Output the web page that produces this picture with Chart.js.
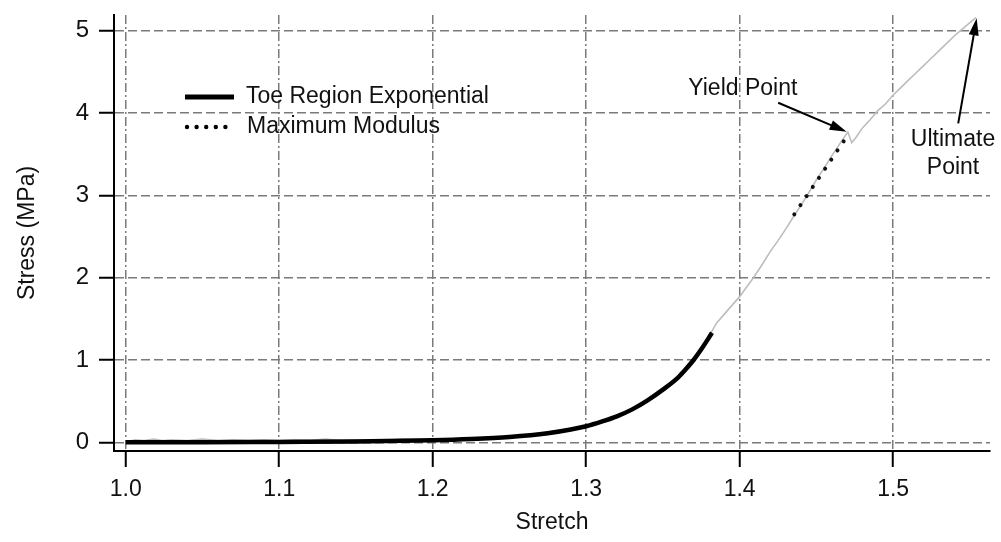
<!DOCTYPE html>
<html>
<head>
<meta charset="utf-8">
<script src="https://cdn.jsdelivr.net/npm/chart.js@4.4.1/dist/chart.umd.min.js"></script>
<style>
  html, body { margin: 0; padding: 0; background: #ffffff; }
  #wrap { width: 1001px; height: 542px; position: relative; }
</style>
</head>
<body>
<div id="wrap"><canvas id="stressChart"></canvas></div>
<script>
const rawStretch = [1.000, 1.006, 1.012, 1.018, 1.024, 1.030, 1.040, 1.050, 1.060, 1.070,
                    1.080, 1.090, 1.100, 1.110, 1.120, 1.130, 1.140, 1.150, 1.160, 1.170,
                    1.180, 1.190, 1.200, 1.210, 1.220, 1.230, 1.240, 1.250, 1.260, 1.270,
                    1.280, 1.290, 1.300, 1.310, 1.320, 1.330, 1.340, 1.350, 1.360, 1.370,
                    1.378, 1.385, 1.392, 1.400, 1.405, 1.409, 1.415, 1.420, 1.425, 1.430,
                    1.435, 1.440, 1.444, 1.450, 1.455, 1.460, 1.465, 1.469, 1.4705, 1.473,
                    1.476, 1.480, 1.485, 1.490, 1.495, 1.500, 1.505, 1.510, 1.515, 1.520,
                    1.525, 1.530, 1.535, 1.540, 1.545, 1.550, 1.554];
const rawStress = [0.00, 0.03, 0.02, 0.04, 0.02, 0.03, 0.02, 0.04, 0.02, 0.03,
                   0.02, 0.03, 0.02, 0.03, 0.02, 0.04, 0.02, 0.03, 0.03, 0.02,
                   0.04, 0.03, 0.03, 0.04, 0.05, 0.05, 0.06, 0.07, 0.09, 0.11,
                   0.14, 0.16, 0.20, 0.25, 0.31, 0.40, 0.51, 0.64, 0.79, 1.00,
                   1.22, 1.45, 1.60, 1.77, 1.90, 2.00, 2.17, 2.32, 2.45, 2.59,
                   2.74, 2.88, 3.00, 3.19, 3.33, 3.48, 3.62, 3.73, 3.77, 3.64,
                   3.71, 3.82, 3.92, 4.03, 4.11, 4.22, 4.31, 4.40, 4.49, 4.58,
                   4.67, 4.76, 4.85, 4.94, 5.02, 5.10, 5.16];

const toeStretch = [1.000, 1.050, 1.100, 1.150, 1.200, 1.225, 1.250, 1.275, 1.290, 1.300,
                    1.310, 1.320, 1.330, 1.340, 1.350, 1.360, 1.365, 1.370, 1.375, 1.382];
const toeStress = [0.00, 0.00, 0.005, 0.01, 0.025, 0.04, 0.065, 0.11, 0.155, 0.195,
                   0.25, 0.315, 0.40, 0.51, 0.64, 0.79, 0.89, 1.00, 1.13, 1.33];

const modulusStretch = [1.4356, 1.4686];
const modulusStress = [2.77, 3.68];

const xTicks = [1.0, 1.1, 1.2, 1.3, 1.4, 1.5];
const yTicks = [0, 1, 2, 3, 4, 5];
const seriesNames = ['Toe Region Exponential', 'Maximum Modulus'];

// anotaciones (coordenadas de datos)
const yieldTip = [1.4697, 3.774];
const yieldTail = [1.4251, 4.126];
const yieldLabel = [1.3665, 4.30];
const ultimateTip = [1.5544, 5.152];
const ultimateTail = [1.5424, 3.876];
const ultimateLabel = [1.539, 3.673];

const FONT = "'Liberation Sans', Arial, Helvetica, sans-serif";
const TEXT = '#111111';

const toPoints = (xs, ys) => xs.map((x, i) => ({ x: x, y: ys[i] }));

function drawArrow(ctx, x1, y1, x2, y2) {
    const ang = Math.atan2(y2 - y1, x2 - x1);
    const c = Math.cos(ang), s = Math.sin(ang);
    const headLen = 17, headW = 5;
    ctx.beginPath();
    ctx.moveTo(x1, y1);
    ctx.lineTo(x2 - headLen * 0.7 * c, y2 - headLen * 0.7 * s);
    ctx.stroke();
    ctx.beginPath();
    ctx.moveTo(x2, y2);
    ctx.lineTo(x2 - headLen * c + headW * s, y2 - headLen * s - headW * c);
    ctx.lineTo(x2 - headLen * c - headW * s, y2 - headLen * s + headW * c);
    ctx.closePath();
    ctx.fill();
}

// Leyenda y flechas dibujadas a mano sobre el lienzo
const overlayPlugin = {
    id: 'overlay',
    afterDraw(chart) {
        const { ctx, scales: { x, y } } = chart;
        const px = p => [x.getPixelForValue(p[0]), y.getPixelForValue(p[1])];
        ctx.save();
        ctx.fillStyle = TEXT;
        ctx.strokeStyle = '#000';
        ctx.font = '23px ' + FONT;
        ctx.textBaseline = 'middle';

        // leyenda
        ctx.lineWidth = 5;
        ctx.beginPath();
        ctx.moveTo(185, 97);
        ctx.lineTo(234, 97);
        ctx.stroke();
        ctx.fillStyle = '#000';
        for (let i = 0; i < 5; i++) {
            ctx.beginPath();
            ctx.arc(187 + i * 9.6, 127, 2.2, 0, Math.PI * 2);
            ctx.fill();
        }
        ctx.fillStyle = TEXT;
        ctx.textAlign = 'left';
        ctx.fillText(seriesNames[0], 246, 97);
        ctx.fillText(seriesNames[1], 247, 127);

        // Yield Point
        const yl = px(yieldLabel);
        ctx.fillText('Yield Point', yl[0], yl[1]);
        ctx.lineWidth = 2;
        ctx.fillStyle = '#000';
        const yt = px(yieldTail), yh = px(yieldTip);
        drawArrow(ctx, yt[0], yt[1], yh[0], yh[1]);

        // Ultimate Point
        const ut = px(ultimateTail), uh = px(ultimateTip);
        drawArrow(ctx, ut[0], ut[1], uh[0], uh[1]);
        const ul = px(ultimateLabel);
        ctx.fillStyle = TEXT;
        ctx.textAlign = 'center';
        ctx.fillText('Ultimate', ul[0], ul[1]);
        ctx.fillText('Point', ul[0], ul[1] + 28);
        ctx.restore();
    }
};

const ctx = document.getElementById('stressChart');
new Chart(ctx, {
    type: 'line',
    data: {
        datasets: [{
            label: seriesNames[1],
            data: toPoints(modulusStretch, modulusStress),
            borderColor: '#111111',
            borderWidth: 4,
            borderDash: [0.01, 11],
            borderCapStyle: 'round',
            pointRadius: 0,
            fill: false
        }, {
            label: seriesNames[0],
            data: toPoints(toeStretch, toeStress),
            borderColor: '#000000',
            borderWidth: 4.5,
            cubicInterpolationMode: 'monotone',
            pointRadius: 0,
            fill: false
        }, {
            label: 'Data',
            data: toPoints(rawStretch, rawStress),
            borderColor: '#bdbdbd',
            borderWidth: 1.6,
            tension: 0,
            pointRadius: 0,
            fill: false
        }]
    },
    options: {
        animation: false,
        responsive: true,
        maintainAspectRatio: false,
        layout: { padding: { top: 15, right: 11, left: 0, bottom: 0 } },
        plugins: {
            legend: { display: false },
            tooltip: { enabled: false }
        },
        scales: {
            x: {
                type: 'linear',
                min: 0.99238,
                max: 1.5631,
                afterBuildTicks: (s) => { s.ticks = xTicks.map(v => ({ value: v })); },
                afterFit: (s) => { s.height = 91; s.paddingLeft = 0; s.paddingRight = 0; },
                grid: { color: '#7a7a7a', lineWidth: 1.5, tickColor: '#000', tickWidth: 2, tickLength: 16 },
                border: { color: '#000', width: 2, dash: [9, 3, 2, 3] },
                ticks: {
                    color: TEXT, padding: 9, autoSkip: false, maxRotation: 0,
                    font: { family: FONT, size: 23 },
                    callback: (v) => Number(v).toFixed(1)
                },
                title: {
                    display: true, text: 'Stretch', color: TEXT,
                    font: { family: FONT, size: 23 },
                    padding: { top: 0, bottom: 6 }
                }
            },
            y: {
                type: 'linear',
                min: -0.1057,
                max: 5.192,
                afterBuildTicks: (s) => { s.ticks = yTicks.map(v => ({ value: v })); },
                afterFit: (s) => { s.width = 114; s.paddingTop = 0; s.paddingBottom = 0; },
                grid: { color: '#7a7a7a', lineWidth: 1.5, tickColor: '#000', tickWidth: 2, tickLength: 15 },
                border: { color: '#000', width: 2, dash: [9, 4] },
                ticks: {
                    color: TEXT, padding: 10, autoSkip: false,
                    font: { family: FONT, size: 24 },
                    callback: (v) => String(v)
                },
                title: {
                    display: true, text: 'Stress (MPa)', color: TEXT,
                    font: { family: FONT, size: 23 },
                    padding: { top: 14, bottom: 0 }
                }
            }
        }
    },
    plugins: [overlayPlugin]
});
</script>
</body>
</html>
